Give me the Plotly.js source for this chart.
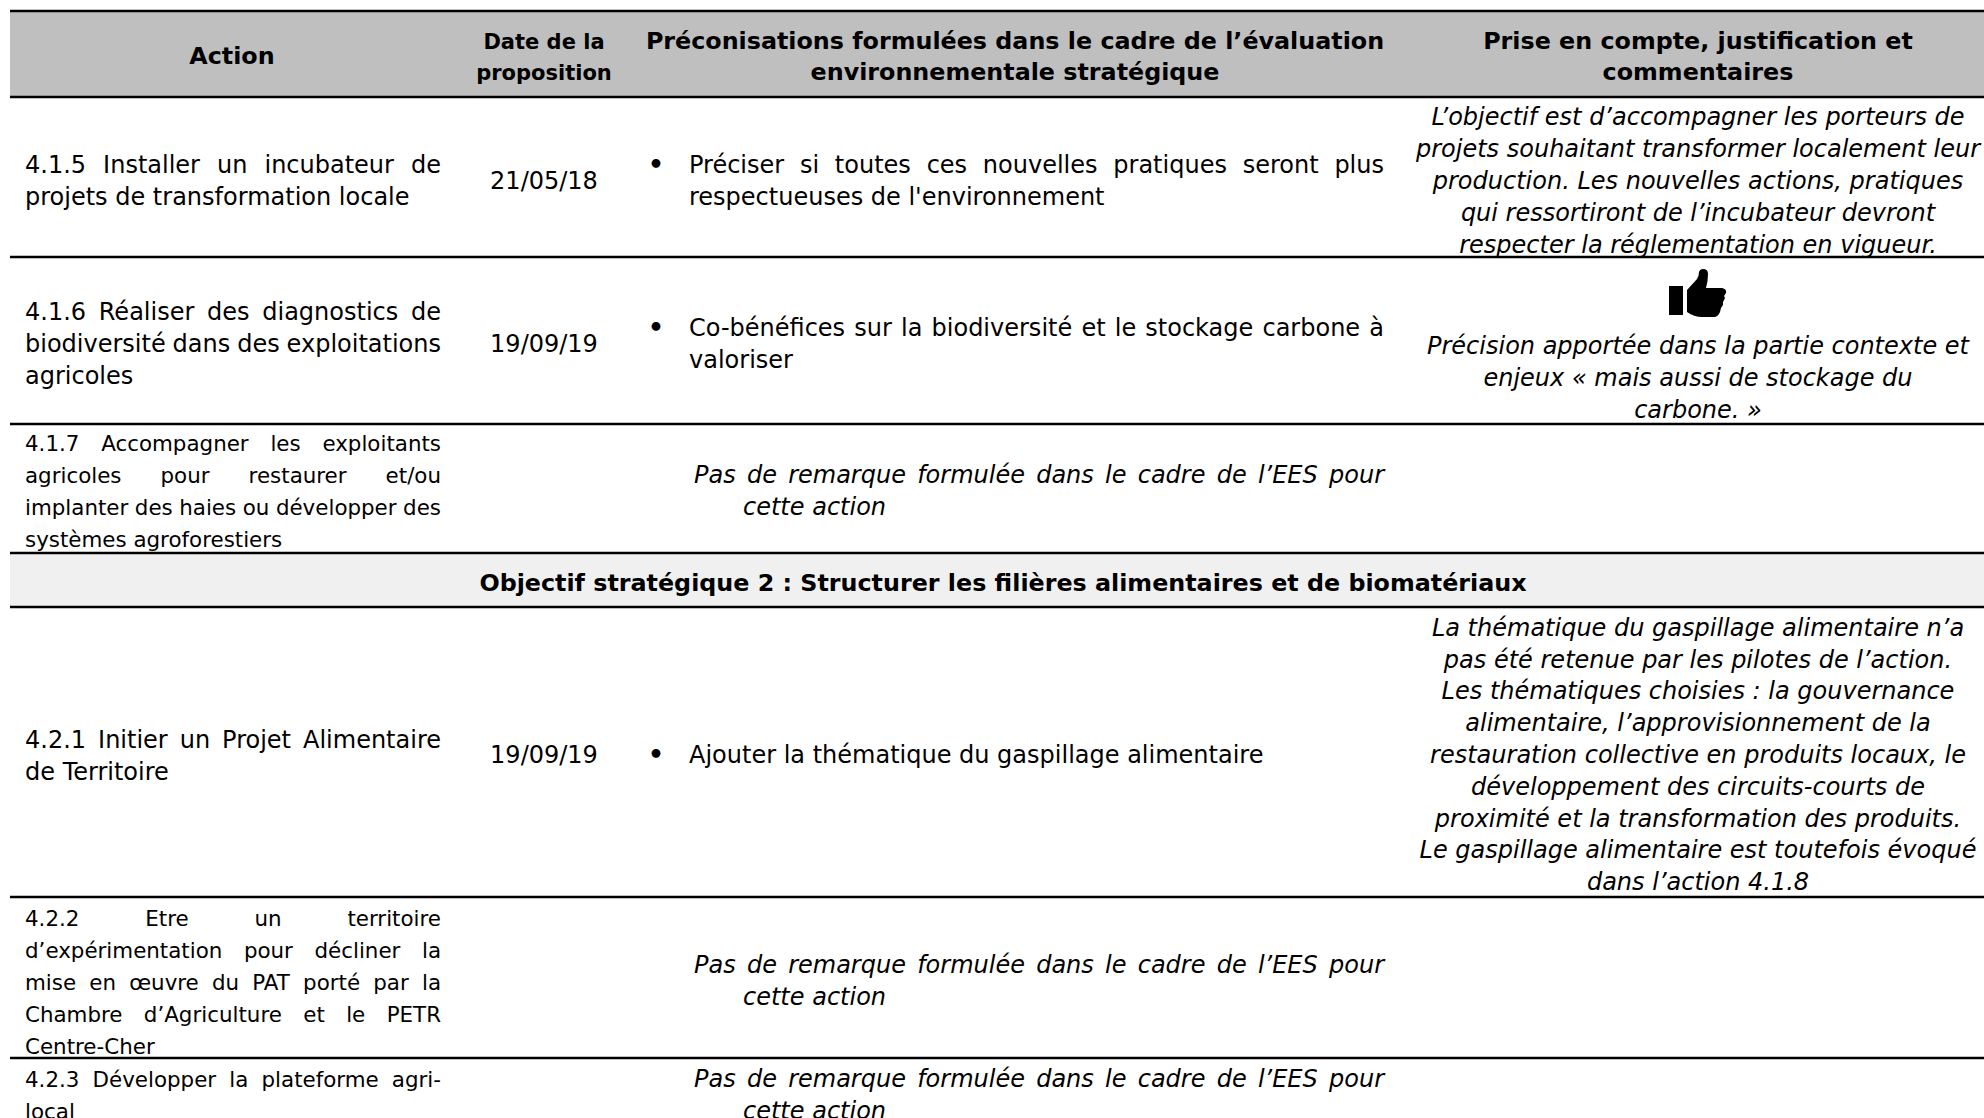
<!DOCTYPE html>
<html><head><meta charset="utf-8">
<script src="https://cdn.plot.ly/plotly-3.0.1.min.js"></script>
<style>html,body{margin:0;padding:0;background:#fff;overflow:hidden}</style>
</head><body><div id="chart" style="width:1984px;height:1118px"></div>
<script>
// ---- table content ----
const headers = [
  ["Action"],
  ["Date de la","proposition"],
  ["Préconisations formulées dans le cadre de l’évaluation","environnementale stratégique"],
  ["Prise en compte, justification et","commentaires"]
];
const section = "Objectif stratégique 2 : Structurer les filières alimentaires et de biomatériaux";
const actions = [
  ["4.1.5 Installer un incubateur de","projets de transformation locale"],
  ["4.1.6 Réaliser des diagnostics de","biodiversité dans des exploitations","agricoles"],
  ["4.1.7 Accompagner les exploitants","agricoles pour restaurer et/ou","implanter des haies ou développer des","systèmes agroforestiers"],
  ["4.2.1 Initier un Projet Alimentaire","de Territoire"],
  ["4.2.2 Etre un territoire","d’expérimentation pour décliner la","mise en œuvre du PAT porté par la","Chambre d’Agriculture et le PETR","Centre-Cher"],
  ["4.2.3 Développer la plateforme agri-","local"]
];
const dates = ["21/05/18","19/09/19","","19/09/19","",""];
const noRemark = ["Pas de remarque formulée dans le cadre de l’EES pour","cette action"];
const advice = [
  ["Préciser si toutes ces nouvelles pratiques seront plus","respectueuses de l'environnement"],
  ["Co-bénéfices sur la biodiversité et le stockage carbone à","valoriser"],
  noRemark,
  ["Ajouter la thématique du gaspillage alimentaire"],
  noRemark,
  noRemark
];
const comments = [
  ["L’objectif est d’accompagner les porteurs de","projets souhaitant transformer localement leur","production. Les nouvelles actions, pratiques","qui ressortiront de l’incubateur devront","respecter la réglementation en vigueur."],
  ["Précision apportée dans la partie contexte et","enjeux « mais aussi de stockage du","carbone. »"],
  [],
  ["La thématique du gaspillage alimentaire n’a","pas été retenue par les pilotes de l’action.","Les thématiques choisies : la gouvernance","alimentaire, l’approvisionnement de la","restauration collective en produits locaux, le","développement des circuits-courts de","proximité et la transformation des produits.","Le gaspillage alimentaire est toutefois évoqué","dans l’action 4.1.8"],
  [],
  []
];

// ---- page geometry ----
const W = 1984, H = 1118, FAM = "DejaVu Sans, Verdana, sans-serif";
const BODY = 24, SMALL = 21.4, HEAD = 23.8, HEADSMALL = 21, SECTION = 23.8, LH = 32;
const ruleY = [11, 97, 257, 424, 553, 607, 897, 1058];
const actionY = [183, 346, 494, 758, 985, 1098];
const dateY = [183, 346, 0, 757, 0, 0];
const adviceY = [183, 346, 493, 757, 983, 1097];
const commentY = [183, 380, 0, 757, 0, 0];
const actionSize = [BODY, BODY, SMALL, BODY, SMALL, SMALL];
const L = 25, R = 441, AL = 689, AR = 1384, NL = 694, NI = 743;

const ctx = document.createElement('canvas').getContext('2d');
function widthOf(s, size, style){ ctx.font = `${style||'normal'} normal ${size}px "DejaVu Sans"`; return ctx.measureText(s).width; }

const buckets = {};
function put(key, x, y, t, size, pos){
  const b = buckets[key] || (buckets[key] = {x:[],y:[],text:[],size:[],pos:[]});
  b.x.push(x); b.y.push(y); b.text.push(t); b.size.push(size); b.pos.push(pos);
}
function justified(s, x0, x1, y, size, key, style){
  const words = s.split(' ');
  const ws = words.map(w => widthOf(w, size, style));
  const gap = (x1 - x0 - ws.reduce((a,b)=>a+b,0)) / (words.length - 1);
  let x = x0;
  words.forEach((w,i)=>{ put(key, x, y, w, size, 'middle right'); x += ws[i] + gap; });
}
function column(lines, cy, lh){ return lines.map((l,i)=>[l, cy + (i - (lines.length-1)/2)*lh]); }

// header
const headX = [232, 544, 1015, 1698];
headers.forEach((h,i)=>{ column(h, i===0?58:59, 31).forEach(([t,y])=>put('bold', headX[i], y, t, i===1?HEADSMALL:HEAD, 'middle center')); });
put('bold', 1003, 585, section, SECTION, 'middle center');

actions.forEach((lines,r)=>{
  const size = actionSize[r];
  column(lines, actionY[r], LH).forEach(([t,y],i)=>{
    if(i < lines.length-1) justified(t, L, R, y, size, 'plain');
    else put('plain', L, y, t, size, 'middle right');
  });
});
dates.forEach((d,r)=>{ if(d) put('plain', 544, dateY[r], d, BODY, 'middle center'); });
advice.forEach((lines,r)=>{
  const isNo = lines === noRemark;
  column(lines, adviceY[r], LH).forEach(([t,y],i)=>{
    if(isNo){
      if(i===0) justified(t, NL, AR, y, BODY, 'italic', 'italic');
      else put('italic', NI, y, t, BODY, 'middle right');
    } else {
      if(i===0) put('bold', 656, y, '•', 25, 'middle center');
      if(i < lines.length-1) justified(t, AL, AR, y, BODY, 'plain');
      else put('plain', AL, y, t, BODY, 'middle right');
    }
  });
});
comments.forEach((lines,r)=>{
  column(lines, commentY[r], 31.8).forEach(([t,y])=>put('italic', 1698, y, t, BODY, 'middle center'));
});

const styleOf = {plain:{}, bold:{weight:700}, italic:{style:'italic'}};
const traces = Object.keys(buckets).map(k=>({
  type:'scatter', mode:'text', x:buckets[k].x, y:buckets[k].y, text:buckets[k].text,
  textposition:buckets[k].pos, hoverinfo:'skip', showlegend:false,
  textfont:Object.assign({family:FAM, size:buckets[k].size, color:'#000'}, styleOf[k])
}));

const shapes = [
  {type:'rect', x0:10, x1:W, y0:ruleY[0], y1:ruleY[1], fillcolor:'#BFBFBF', line:{width:0}, layer:'below'},
  {type:'rect', x0:10, x1:W, y0:ruleY[4], y1:ruleY[5], fillcolor:'#F0F0F0', line:{width:0}, layer:'below'}
].concat(ruleY.map(y=>({type:'line', x0:10, x1:W, y0:y, y1:y, line:{color:'#000', width:2.5}})));
// thumbs-up pictogram
shapes.push({type:'path', path:'M1669,286 L1683,286 L1683,315 L1669,315 Z', fillcolor:'#000', line:{width:0}});
shapes.push({type:'path', path:'M1687,290 L1697,279 Q1699,276 1699,272 Q1700,269 1703,269 Q1708,269 1708,274 Q1708,281 1706,288 L1722,288 Q1727,289 1726,293 L1724,296 L1725,298 L1723,302 L1723,305 L1721,308 L1720,312 Q1718,317 1714,317 L1702,317 Q1694,317 1687,312 Z', fillcolor:'#000', line:{width:0}});

Plotly.newPlot('chart', traces, {
  width:W, height:H, margin:{l:0,r:0,t:0,b:0}, paper_bgcolor:'#fff', plot_bgcolor:'#fff',
  xaxis:{range:[0,W], visible:false, fixedrange:true},
  yaxis:{range:[H,0], visible:false, fixedrange:true},
  shapes, hovermode:false, showlegend:false
}, {displayModeBar:false, staticPlot:true});
</script></body></html>
